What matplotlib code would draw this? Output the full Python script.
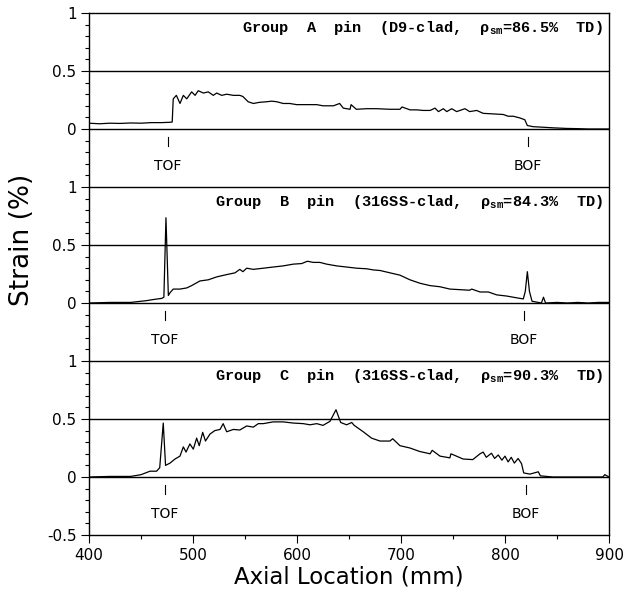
import numpy as np
import matplotlib
matplotlib.use("Agg")
import matplotlib.pyplot as plt
from matplotlib.ticker import MultipleLocator

# Group A pin (D9-clad)
xa = [400, 410, 420, 430, 440, 450, 460, 470, 478, 480, 481, 484, 487.5, 490.7, 494, 498.7, 502, 505, 510,
      514.7, 519.5, 522.8, 527.6, 532.4, 538.8, 545, 548, 553, 558, 564, 571, 575.7, 580.5, 586.8, 593, 599.7,
      606, 612.5, 619, 625, 635, 641, 644.5, 651, 652, 657, 667, 676.6, 689.4, 699, 701, 708.6, 715, 721.5,
      728, 732.7, 736, 740.7, 744, 748.8, 753.5, 761.5, 766, 772.8, 779, 788.8, 798.4, 803, 808, 814.4, 819,
      821.5, 827, 837, 846.5, 859, 870, 880, 890, 900]
ya = [0.05, 0.045, 0.05, 0.048, 0.052, 0.05, 0.055, 0.055, 0.058, 0.06, 0.26, 0.29, 0.22, 0.29, 0.26, 0.32,
      0.29, 0.33, 0.31, 0.32, 0.29, 0.31, 0.29, 0.30, 0.29, 0.29, 0.28, 0.235, 0.22, 0.23, 0.235, 0.24, 0.235,
      0.22, 0.22, 0.21, 0.21, 0.21, 0.21, 0.20, 0.20, 0.22, 0.18, 0.17, 0.21, 0.17, 0.175, 0.175, 0.17, 0.17,
      0.19, 0.165, 0.165, 0.16, 0.16, 0.18, 0.15, 0.175, 0.15, 0.175, 0.15, 0.175, 0.15, 0.16, 0.135, 0.13,
      0.125, 0.11, 0.11, 0.095, 0.08, 0.03, 0.02, 0.015, 0.01, 0.005, 0.003, 0.0, 0.0, 0.0]

# Group B pin (316SS-clad, 84.3% TD)
xb = [400, 420, 440, 455, 462, 470, 472, 474, 476.3, 478, 481, 487.5, 494, 498.7, 506.7, 514.7, 522.8, 532.4,
      540.4, 545, 548, 551.6, 558, 567.6, 577, 586.8, 596.4, 604.5, 610, 615.7, 622, 628.5, 638, 647.7, 657.4,
      667, 673.5, 680, 689.4, 699, 708.6, 718.3, 727.9, 737.5, 747, 756.7, 766, 768, 776, 784, 792, 801.6, 811,
      817.6, 819.5, 821.5, 823.5, 826, 835, 837, 839, 850, 860, 870, 880, 890, 900]
yb = [0.0, 0.005, 0.005, 0.02, 0.03, 0.04, 0.05, 0.735, 0.065, 0.09, 0.12, 0.12, 0.13, 0.15, 0.19, 0.2, 0.225,
      0.245, 0.26, 0.29, 0.27, 0.3, 0.29, 0.3, 0.31, 0.32, 0.335, 0.34, 0.36, 0.35, 0.35, 0.335, 0.32, 0.31,
      0.3, 0.295, 0.285, 0.28, 0.26, 0.24, 0.2, 0.17, 0.15, 0.14, 0.12, 0.115, 0.11, 0.12, 0.095, 0.095, 0.07,
      0.06, 0.045, 0.035, 0.1, 0.27, 0.1, 0.015, 0.0, 0.05, 0.0, 0.005, 0.0, 0.005, 0.0, 0.005, 0.005]

# Group C pin (316SS-clad, 90.3% TD)
xc = [400, 420, 440, 450, 458.7, 465, 468, 471.4, 473.6, 477.9, 482.7, 487.5, 490.7, 493.3, 497, 500.3, 503.5,
      506, 509.3, 512, 516.3, 521, 526, 529, 532.4, 538.8, 545, 551.6, 558, 562.8, 567.6, 577, 586.8, 596.4,
      606, 612.5, 619, 625, 631.7, 637.5, 642, 647.7, 652.6, 655, 663.7, 671.7, 679.8, 689.4, 692, 699, 708.6,
      718, 728, 730, 737.5, 747, 748, 752, 759.7, 769, 776, 779, 782, 787, 790, 793.5, 797, 800, 803, 806, 809,
      812.6, 815.9, 818, 824, 832, 834, 846, 870, 894, 896, 900]
yc = [0.0, 0.005, 0.005, 0.02, 0.05, 0.05, 0.08, 0.465, 0.1, 0.12, 0.155, 0.18, 0.26, 0.215, 0.285, 0.24,
      0.335, 0.27, 0.385, 0.31, 0.37, 0.4, 0.41, 0.46, 0.39, 0.41, 0.405, 0.44, 0.43, 0.46, 0.46, 0.475, 0.475,
      0.465, 0.46, 0.45, 0.46, 0.445, 0.48, 0.58, 0.47, 0.45, 0.47, 0.445, 0.39, 0.335, 0.31, 0.31, 0.33, 0.27,
      0.25, 0.22, 0.2, 0.23, 0.18, 0.165, 0.2, 0.185, 0.155, 0.15, 0.2, 0.215, 0.17, 0.205, 0.16, 0.19, 0.145,
      0.18, 0.13, 0.17, 0.12, 0.16, 0.115, 0.035, 0.025, 0.045, 0.01, 0.0, 0.0, 0.0, 0.02, 0.0]

titles = [r"Group  A  pin  (D9-clad,  ρ$_{\mathbf{sm}}$=86.5%  TD)",
          r"Group  B  pin  (316SS-clad,  ρ$_{\mathbf{sm}}$=84.3%  TD)",
          r"Group  C  pin  (316SS-clad,  ρ$_{\mathbf{sm}}$=90.3%  TD)"]
tof = [476, 473, 473]
bof = [822, 818, 820]
offsets = [3.0, 1.5, 0.0]

ytick_vals = [-0.5, 0, 0.5, 1.0, 1.5, 2.0, 2.5, 3.0, 3.5, 4.0]
ytick_labels = ["-0.5", "0", "0.5", "1", "0", "0.5", "1", "0", "0.5", "1"]

plt.rcParams["mathtext.fontset"] = "custom"
plt.rcParams["mathtext.rm"] = "Liberation Mono"
plt.rcParams["mathtext.bf"] = "Liberation Mono:bold"

fig = plt.figure(figsize=(6.24, 5.92), dpi=100)
ax = fig.add_axes([89 / 624, 57 / 592, 520 / 624, 522 / 592])

for v in np.arange(0, 3.51, 0.5):
    ax.axhline(v, color="black", lw=1.0, zorder=1)

for (x, y), off, title, t, b in zip([(xa, ya), (xb, yb), (xc, yc)], offsets, titles, tof, bof):
    ax.plot(x, np.array(y) + off, color="black", lw=0.9, zorder=3)
    ax.text(894, off + 0.87, title, ha="right", va="center", fontsize=11,
            family="Liberation Mono", fontweight="bold")
    for xm, lab in [(t, "TOF"), (b, "BOF")]:
        ax.plot([xm, xm], [off - 0.07, off - 0.15], color="black", lw=0.8)
        ax.text(xm, off - 0.32, lab, ha="center", va="center", fontsize=10)

ax.set_xlim(400, 900)
ax.set_ylim(-0.5, 4.0)
ax.set_xticks(range(400, 901, 100))
ax.xaxis.set_minor_locator(MultipleLocator(50))
ax.set_yticks(ytick_vals)
ax.set_yticklabels(ytick_labels)
ax.yaxis.set_minor_locator(MultipleLocator(0.1))
ax.tick_params(which="major", direction="out", length=6, width=0.8, labelsize=11, pad=3)
ax.tick_params(which="minor", direction="out", length=3, width=0.8)

for s in ax.spines.values():
    s.set_linewidth(1.0)

ax.set_xlabel("Axial Location (mm)", fontsize=16.5)
ax.xaxis.set_label_coords(0.5, -0.058)
ax.set_ylabel("Strain (%)", fontsize=19)
ax.yaxis.set_label_coords(-0.104, 0.565)

fig.savefig("out.png", dpi=100)
